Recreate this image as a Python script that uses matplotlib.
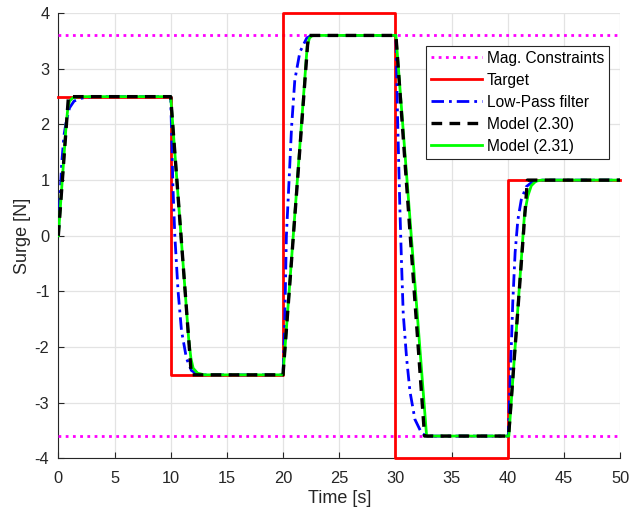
import matplotlib
matplotlib.use("Agg")
import matplotlib.pyplot as plt

plt.rcParams['font.family'] = ['Liberation Sans', 'DejaVu Sans']
plt.rcParams['axes.unicode_minus'] = False

# ---- data ----
step_edges = [0, 10, 20, 30, 40, 50]
target_vals = [2.5, -2.5, 4, -4, 1, 1]

constraint_t = [0, 50]
constraint_hi = [3.6, 3.6]
constraint_lo = [-3.6, -3.6]

lp_t = [0, 0.15, 0.3, 0.5, 0.7, 1.0, 1.4, 2.0, 3.0,
        10.0, 10.2, 10.37, 10.66, 10.96, 11.4, 11.84, 12.4, 13.0,
        20.0, 20.16, 20.3, 20.54, 20.76, 21.05, 21.5, 22.1, 22.5,
        30.05, 30.2, 30.4, 30.55, 30.7, 31.0, 31.3, 31.74, 32.34, 32.8,
        40.05, 40.15, 40.3, 40.45, 40.66, 40.9, 41.2, 41.64, 42.2, 43.0, 50]
lp_y = [0, 0.7, 1.3, 1.8, 2.05, 2.3, 2.42, 2.47, 2.5,
        2.5, 0.9, 0.0, -1.0, -1.7, -2.2, -2.42, -2.49, -2.5,
        -2.5, -1.5, 0.0, 1.0, 1.95, 2.8, 3.3, 3.55, 3.6,
        3.6, 2.1, 0.5, -0.5, -1.4, -2.2, -2.8, -3.3, -3.55, -3.6,
        -3.6, -3.0, -2.1, -1.2, -0.3, 0.28, 0.64, 0.88, 0.97, 1.0, 1.0]

m230_t = [0, 0.9, 10.0, 11.84, 20.0, 22.25, 30.05, 32.6, 40.08, 41.75, 50]
m230_y = [0, 2.5, 2.5, -2.5, -2.5, 3.6, 3.6, -3.6, -3.6, 1.0, 1.0]

m231_t = [0, 0.7, 0.85, 1.0, 1.3, 1.8,
          10.0, 11.6, 11.8, 12.0, 12.4, 13.0,
          20.0, 22.15, 22.35, 22.55, 22.8,
          30.05, 32.78,
          40.1, 41.5, 41.8, 42.1, 42.5, 43.0, 50]
m231_y = [0, 2.0, 2.3, 2.42, 2.48, 2.5,
          2.5, -1.85, -2.2, -2.38, -2.47, -2.5,
          -2.5, 3.4, 3.55, 3.59, 3.6,
          3.6, -3.6,
          -3.6, 0.4, 0.72, 0.9, 0.98, 1.0, 1.0]

x_ticks = [0, 5, 10, 15, 20, 25, 30, 35, 40, 45, 50]
y_ticks = [-4, -3, -2, -1, 0, 1, 2, 3, 4]

# ---- figure ----
fig = plt.figure(figsize=(6.34, 5.17), dpi=100)
ax = fig.add_axes([0.092, 0.1135, 0.886, 0.861])

tc = '#262626'
h_mag, = ax.plot(constraint_t, constraint_hi, color='#ff00ff', linestyle=(0, (1, 1.6)),
                 linewidth=2, zorder=3, label='Mag. Constraints')
ax.plot(constraint_t, constraint_lo, color='#ff00ff', linestyle=(0, (1, 1.6)),
        linewidth=2, zorder=3)
h_tgt, = ax.plot(step_edges, target_vals, drawstyle='steps-post', color='#ff0000',
                 linewidth=2, zorder=4, clip_on=False, label='Target')
h_lp, = ax.plot(lp_t, lp_y, color='#0000ff', linestyle=(0, (4.5, 1.8, 1, 1.8)),
                linewidth=2, zorder=5, label='Low-Pass filter')
h_m31, = ax.plot(m231_t, m231_y, color='#00ff00', linewidth=2, zorder=6,
                 label='Model (2.31)')
h_m30, = ax.plot(m230_t, m230_y, color='black', linestyle=(0, (3.2, 2.2)),
                 linewidth=2.4, zorder=7, label='Model (2.30)')

ax.set_xlim(0, 50)
ax.set_ylim(-4, 4)
ax.set_xticks(x_ticks)
ax.set_yticks(y_ticks)
ax.tick_params(direction='in', length=4, width=0.8, colors=tc, labelsize=11.8,
               top=False, right=False)
ax.tick_params(axis='x', pad=9)
ax.tick_params(axis='y', pad=6.5)
ax.grid(True, color='#e3e3e3', linewidth=0.9)
ax.set_axisbelow(True)
for s in ['top', 'right']:
    ax.spines[s].set_visible(False)
for s in ['left', 'bottom']:
    ax.spines[s].set_color(tc)
    ax.spines[s].set_linewidth(0.8)

ax.set_xlabel('Time [s]', fontsize=13, color=tc)
ax.set_ylabel('Surge [N]', fontsize=13, color=tc)
ax.xaxis.set_label_coords(0.5, -0.071)
ax.yaxis.set_label_coords(-0.049, 0.5)

leg = ax.legend(handles=[h_mag, h_tgt, h_lp, h_m30, h_m31],
                loc='upper right', bbox_to_anchor=(0.9804, 0.927),
                borderaxespad=0, fontsize=11.2, frameon=True, fancybox=False,
                handlelength=3.28, handletextpad=0.32, labelspacing=0.45,
                borderpad=0.32)
leg.get_frame().set_edgecolor(tc)
leg.get_frame().set_linewidth(0.8)
leg.get_frame().set_facecolor('white')
leg.get_frame().set_alpha(1)
leg.set_zorder(10)

fig.savefig('out.png', dpi=100)
